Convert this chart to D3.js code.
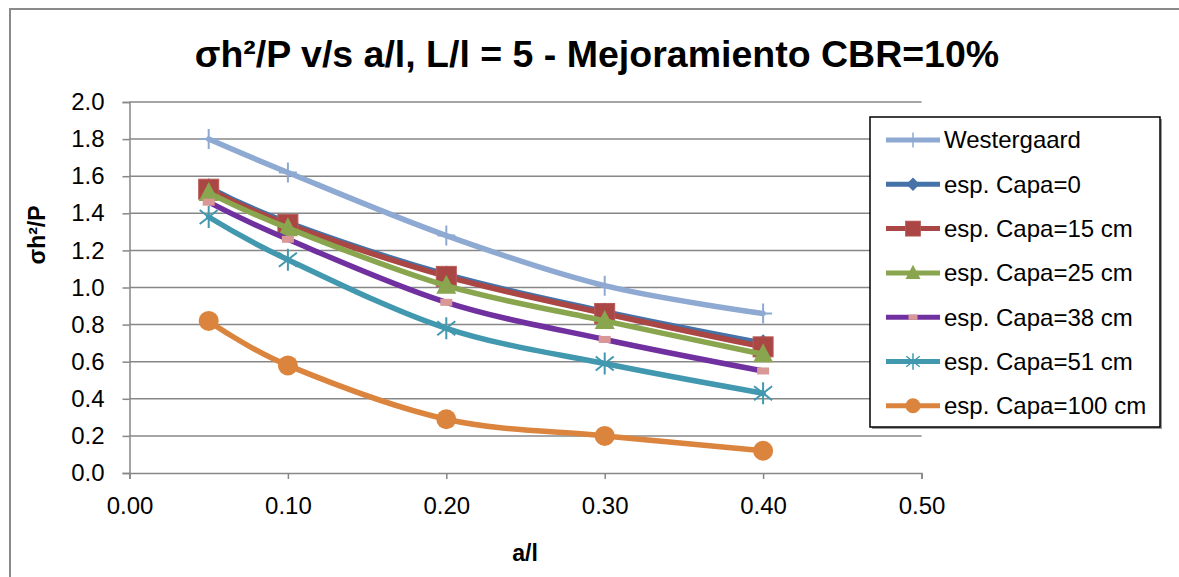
<!DOCTYPE html>
<html>
<head>
<meta charset="utf-8">
<script src="https://cdn.jsdelivr.net/npm/d3@7"></script>
<style>
  body { margin: 0; background: #fff; }
  svg { display: block; font-family: "Liberation Sans", Arial, sans-serif; }
</style>
</head>
<body>
<div id="chart"></div>
<script>
// Data
var xValues = [0.05, 0.10, 0.20, 0.30, 0.40];
var westergaard = [1.80, 1.62, 1.28, 1.01, 0.86];
var capa0 = [1.54, 1.35, 1.07, 0.87, 0.70];
var capa15 = [1.53, 1.34, 1.06, 0.86, 0.68];
var capa25 = [1.51, 1.32, 1.01, 0.82, 0.64];
var capa38 = [1.46, 1.26, 0.92, 0.72, 0.55];
var capa51 = [1.38, 1.15, 0.78, 0.59, 0.43];
var capa100 = [0.82, 0.58, 0.29, 0.20, 0.12];
var seriesNames = ['Westergaard', 'esp. Capa=0', 'esp. Capa=15 cm', 'esp. Capa=25 cm',
  'esp. Capa=38 cm', 'esp. Capa=51 cm', 'esp. Capa=100 cm'];
var xTicks = [0, 0.1, 0.2, 0.3, 0.4, 0.5];
var yTicks = [0, 0.2, 0.4, 0.6, 0.8, 1.0, 1.2, 1.4, 1.6, 1.8, 2.0];

var styles = [
  {color: '#8EA9D2', marker: 'plus', mcolor: '#8EA9D2'},
  {color: '#4572A7', marker: 'diamond', mcolor: '#4572A7'},
  {color: '#AA4643', marker: 'square', mcolor: '#AA4643'},
  {color: '#89A54E', marker: 'triangle', mcolor: '#89A54E'},
  {color: '#71309F', marker: 'dash', mcolor: '#D99795'},
  {color: '#4198AF', marker: 'star', mcolor: '#4198AF'},
  {color: '#DB843D', marker: 'circle', mcolor: '#DB843D'}
];

var allValues = [westergaard, capa0, capa15, capa25, capa38, capa51, capa100];
var data = allValues.map(function (vals, i) {
  return {
    name: seriesNames[i],
    style: styles[i],
    values: vals.map(function (v, j) { return {x: xValues[j], y: v}; })
  };
});

var W = 1179, H = 577;
var margin = {top: 102, left: 129.5, right: 257.5, bottom: 104};
var width = W - margin.left - margin.right;
var height = H - margin.top - margin.bottom;

var x = d3.scaleLinear().domain([0, 0.5]).range([0, width]);
var y = d3.scaleLinear().domain([0, 2]).range([height, 0]);

var line = d3.line()
    .curve(d3.curveCatmullRom.alpha(0))
    .x(function (d) { return x(d.x); })
    .y(function (d) { return y(d.y); });

var svg = d3.select('#chart').append('svg')
    .attr('width', W)
    .attr('height', H);

// Outer chart border (runs off the right and bottom edges)
svg.append('rect')
  .attr('x', 10).attr('y', 9)
  .attr('width', W + 20).attr('height', H + 20)
  .attr('fill', 'none')
  .attr('stroke', '#8a8a8a')
  .attr('stroke-width', 2);

// Title
svg.append('text')
  .attr('x', 597).attr('y', 67)
  .attr('text-anchor', 'middle')
  .style('font-size', '37.5px')
  .style('font-weight', 'bold')
  .text('σh²/P v/s a/l, L/l = 5 - Mejoramiento CBR=10%');

var g = svg.append('g')
    .attr('transform', 'translate(' + margin.left + ',' + margin.top + ')');

// Gridlines
g.selectAll('.grid')
  .data(yTicks.slice(1))
  .enter().append('line')
  .attr('class', 'grid')
  .attr('x1', 0).attr('x2', width)
  .attr('y1', function (d) { return y(d); })
  .attr('y2', function (d) { return y(d); })
  .attr('stroke', '#878787')
  .attr('stroke-width', 1.5);

// Axes
var xAxis = d3.axisBottom(x).tickValues(xTicks).tickSize(6).tickPadding(15)
    .tickFormat(d3.format('.2f'));
var yAxis = d3.axisLeft(y).tickValues(yTicks).tickSize(7).tickPadding(18)
    .tickFormat(d3.format('.1f'));

g.append('g')
  .attr('class', 'x-axis')
  .attr('transform', 'translate(0,' + height + ')')
  .call(xAxis);

g.append('g')
  .attr('class', 'y-axis')
  .call(yAxis);

g.selectAll('.domain').attr('stroke', '#878787').attr('stroke-width', 1.5);
g.selectAll('.tick line').attr('stroke', '#878787').attr('stroke-width', 1.5);
g.selectAll('.tick text')
  .attr('fill', '#000')
  .style('font-size', '24px')
  .style('font-family', '"Liberation Sans", Arial, sans-serif');
g.select('.x-axis').selectAll('.tick text').attr('dy', '0.85em');

// Axis titles
svg.append('text')
  .attr('x', 525).attr('y', 561)
  .attr('text-anchor', 'middle')
  .style('font-size', '23px')
  .style('font-weight', 'bold')
  .text('a/l');

svg.append('text')
  .attr('transform', 'translate(45,235) rotate(-90)')
  .attr('text-anchor', 'middle')
  .style('font-size', '23px')
  .style('font-weight', 'bold')
  .text('σh²/P');

// Marker drawing
function drawMarker(sel, st) {
  var c = st.mcolor;
  if (st.marker === 'plus') {
    sel.append('path').attr('d', 'M-9,0H9M0,-10V10')
      .attr('stroke', c).attr('stroke-width', 2).attr('fill', 'none');
  } else if (st.marker === 'diamond') {
    sel.append('path').attr('d', 'M0,-9L9,0L0,9L-9,0Z').attr('fill', c);
  } else if (st.marker === 'square') {
    sel.append('rect').attr('x', -10).attr('y', -10).attr('width', 20).attr('height', 20)
      .attr('fill', c).attr('stroke', '#b85a57').attr('stroke-width', 1);
  } else if (st.marker === 'triangle') {
    sel.append('path').attr('d', 'M0,-11L10,8L-10,8Z').attr('fill', c);
  } else if (st.marker === 'dash') {
    sel.append('rect').attr('x', -6).attr('y', -3.5).attr('width', 12).attr('height', 7)
      .attr('fill', c);
  } else if (st.marker === 'star') {
    sel.append('path').attr('d', 'M0,-11V11M-9,-7L9,7M-9,7L9,-7')
      .attr('stroke', c).attr('stroke-width', 2).attr('fill', 'none');
  } else if (st.marker === 'circle') {
    sel.append('circle').attr('r', 10).attr('fill', c);
  }
}

// Series
var series = g.selectAll('.series')
  .data(data)
  .enter().append('g')
  .attr('class', 'series');

series.append('path')
  .attr('d', function (d) { return line(d.values); })
  .attr('fill', 'none')
  .attr('stroke', function (d) { return d.style.color; })
  .attr('stroke-width', 5.5)
  .attr('stroke-linecap', 'round');

series.each(function (d) {
  var s = d3.select(this);
  d.values.forEach(function (v) {
    var m = s.append('g')
      .attr('transform', 'translate(' + x(v.x) + ',' + y(v.y) + ')');
    drawMarker(m, d.style);
  });
});

// Legend
var legend = svg.append('g').attr('transform', 'translate(870,117)');
legend.append('rect')
  .attr('x', 2).attr('y', 2)
  .attr('width', 290).attr('height', 310)
  .attr('fill', '#9a9a9a');
legend.append('rect')
  .attr('width', 290).attr('height', 310)
  .attr('fill', '#fff')
  .attr('stroke', '#000')
  .attr('stroke-width', 1.5);

var item = legend.selectAll('.item')
  .data(data)
  .enter().append('g')
  .attr('class', 'item')
  .attr('transform', function (d, i) { return 'translate(0,' + (23 + i * 44.3) + ')'; });

item.append('line')
  .attr('x1', 16).attr('x2', 70)
  .attr('stroke', function (d) { return d.style.color; })
  .attr('stroke-width', 5);

item.each(function (d) {
  var m = d3.select(this).append('g');
  drawMarker(m, d.style);
  m.attr('transform', 'translate(43,0) scale(0.75)');
});

item.append('text')
  .attr('x', 74).attr('dy', '0.35em')
  .style('font-size', '24px')
  .text(function (d) { return d.name; });
</script>
</body>
</html>
